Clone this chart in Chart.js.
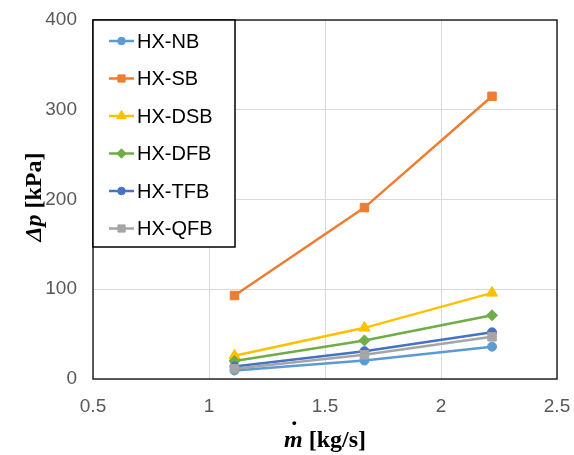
<!DOCTYPE html>
<html>
<head>
<meta charset="utf-8">
<script src="https://cdn.jsdelivr.net/npm/chart.js@4.4.0/dist/chart.umd.min.js"></script>
<style>
  html, body { margin: 0; padding: 0; background: #ffffff; }
  #wrap { width: 574px; height: 455px; }
</style>
</head>
<body>
<div id="wrap"><canvas id="chart" width="574" height="455"></canvas></div>
<script>
// Data
const massFlow = [1.11, 1.67, 2.22];          // kg/s
const seriesNames = ['HX-NB', 'HX-SB', 'HX-DSB', 'HX-DFB', 'HX-TFB', 'HX-QFB'];
const dpNB  = [9.5, 20.5, 36];
const dpSB  = [93, 191, 315];
const dpDSB = [26, 57, 96];
const dpDFB = [20, 43, 71];
const dpTFB = [14, 31, 52];
const dpQFB = [11.5, 27, 47];
const xTicks = [0.5, 1, 1.5, 2, 2.5];
const yTicks = [0, 100, 200, 300, 400];

const seriesValues = [dpNB, dpSB, dpDSB, dpDFB, dpTFB, dpQFB];
const colors = ['#5b9bd5', '#ed7d31', '#ffc000', '#70ad47', '#4472c4', '#a5a5a5'];
const markers = ['circle', 'rect', 'triangle', 'rectRot', 'circle', 'rect'];
const markerSize = { circle: 4.5, rect: 6, triangle: 6.5, rectRot: 5.5 };

const datasets = seriesNames.map((name, i) => ({
  label: name,
  data: massFlow.map((m, k) => ({ x: m, y: seriesValues[i][k] })),
  borderColor: colors[i],
  backgroundColor: colors[i],
  borderWidth: 2.5,
  pointStyle: markers[i],
  pointRadius: markerSize[markers[i]],
  pointBorderWidth: 1,
  tension: 0,
  order: seriesNames.length - i   // later series on top, like Excel
}));

// frame around plot area
const framePlugin = {
  id: 'frame',
  beforeDatasetsDraw(chart) {
    const { ctx, chartArea: a } = chart;
    ctx.save();
    ctx.strokeStyle = '#262626';
    ctx.lineWidth = 1.5;
    ctx.strokeRect(a.left, a.top, a.right - a.left, a.bottom - a.top);
    ctx.restore();
  }
};

// inside legend box, Excel style: line + marker + label
const legendPlugin = {
  id: 'boxLegend',
  afterDraw(chart) {
    const { ctx, chartArea: a } = chart;
    const left = a.left, top = a.top, w = 142, h = 227;
    ctx.save();
    ctx.fillStyle = '#ffffff';
    ctx.fillRect(left, top, w, h);
    ctx.strokeStyle = '#000000';
    ctx.lineWidth = 1.5;
    ctx.strokeRect(left, top, w, h);
    ctx.font = '20px "Liberation Sans", Arial, sans-serif';
    ctx.textBaseline = 'middle';
    ctx.textAlign = 'left';
    chart.data.datasets.forEach((ds, i) => {
      const y = top + 21 + i * 37.5;
      ctx.strokeStyle = ds.borderColor;
      ctx.lineWidth = 2.5;
      ctx.beginPath();
      ctx.moveTo(left + 16, y);
      ctx.lineTo(left + 41, y);
      ctx.stroke();
      ctx.fillStyle = ds.backgroundColor;
      ctx.lineWidth = 1;
      Chart.helpers.drawPoint(ctx, { pointStyle: ds.pointStyle, radius: ds.pointRadius * 0.85, rotation: 0, borderWidth: 1 }, left + 28.5, y);
      ctx.fillStyle = '#000000';
      ctx.fillText(ds.label, left + 44, y + 1);
    });
    ctx.restore();
  }
};

// axis titles with mixed italic / upright parts
function drawParts(ctx, parts, cx, y) {
  let total = 0;
  parts.forEach(p => { ctx.font = p.font; p.w = ctx.measureText(p.text).width; total += p.w; });
  let x = cx - total / 2;
  const starts = [];
  parts.forEach(p => { ctx.font = p.font; starts.push(x); ctx.fillText(p.text, x, y); x += p.w; });
  return starts;
}

const titlePlugin = {
  id: 'axisTitles',
  afterDraw(chart) {
    const { ctx } = chart;
    const serif = '"Liberation Serif", "Times New Roman", serif';
    ctx.save();
    ctx.fillStyle = '#000000';
    ctx.textBaseline = 'alphabetic';
    ctx.textAlign = 'left';
    // x title: m-dot [kg/s]
    const xParts = [
      { text: 'm', font: 'italic bold 24px ' + serif },
      { text: ' [kg/s]', font: 'bold 24px ' + serif }
    ];
    const st = drawParts(ctx, xParts, 325, 447);
    ctx.font = 'bold 24px ' + serif;
    ctx.textAlign = 'center';
    ctx.fillText('.', st[0] + xParts[0].w / 2 + 1, 425);
    // y title: Δp [kPa]
    ctx.textAlign = 'left';
    ctx.translate(41, 197);
    ctx.rotate(-Math.PI / 2);
    drawParts(ctx, [
      { text: 'Δp', font: 'italic bold 24px ' + serif },
      { text: ' [kPa]', font: 'bold 24px ' + serif }
    ], 0, 0);
    ctx.restore();
  }
};

const tickFont = { family: '"Liberation Sans", Arial, sans-serif', size: 19 };

function noPad(s) {
  s.paddingTop = 0; s.paddingBottom = 0; s.paddingLeft = 0; s.paddingRight = 0;
}

new Chart(document.getElementById('chart'), {
  type: 'line',
  data: { datasets },
  options: {
    responsive: false,
    animation: false,
    layout: { padding: { left: 0, top: 20, right: 17, bottom: 0 } },
    plugins: { legend: { display: false }, tooltip: { enabled: false } },
    scales: {
      x: {
        type: 'linear',
        min: xTicks[0],
        max: xTicks[xTicks.length - 1],
        afterBuildTicks: s => { s.ticks = xTicks.map(v => ({ value: v })); },
        afterFit: s => { s.height = 76; noPad(s); },
        grid: { color: '#d9d9d9', lineWidth: 1, drawTicks: false },
        border: { display: false },
        ticks: { color: '#595959', font: tickFont, padding: 16, maxRotation: 0,
                 callback: v => String(v) }
      },
      y: {
        min: yTicks[0],
        max: yTicks[yTicks.length - 1],
        afterBuildTicks: s => { s.ticks = yTicks.map(v => ({ value: v })); },
        afterFit: s => { s.width = 93; noPad(s); },
        grid: { color: '#d9d9d9', lineWidth: 1, drawTicks: false },
        border: { display: false },
        ticks: { color: '#595959', font: tickFont, padding: 16 }
      }
    }
  },
  plugins: [framePlugin, legendPlugin, titlePlugin]
});
</script>
</body>
</html>
